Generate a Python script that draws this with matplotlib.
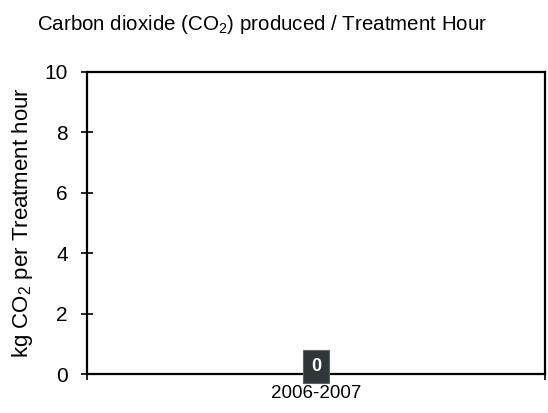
import matplotlib
matplotlib.use("Agg")
import matplotlib.pyplot as plt

plt.rcParams['font.family'] = ['Liberation Sans', 'DejaVu Sans']
plt.rcParams['mathtext.fontset'] = 'custom'
plt.rcParams['mathtext.rm'] = 'Liberation Sans'
plt.rcParams['mathtext.it'] = 'Liberation Sans:italic'

# data
years = ['2006-2007']
co2_per_hour = [0]
yticks = [0, 2, 4, 6, 8, 10]

fig = plt.figure(figsize=(5.48, 4.13), dpi=100)
ax = fig.add_axes([0.159, 0.094, 0.836, 0.732])

xs = list(range(len(years)))
ax.bar(xs, co2_per_hour, width=0.5, color='#2f3838')
for x, v in zip(xs, co2_per_hour):
    ax.text(x, v + 0.25, str(v), ha='center', va='center', color='white',
            fontsize=13, fontweight='bold',
            bbox=dict(boxstyle='square,pad=0.45', fc='#2f3838', ec='#5a6464', lw=0.8))

ax.set_xlim(-0.5, len(years) - 0.5)
ax.set_ylim(0, 10)
ax.set_yticks(yticks)
ax.set_xticks([i - 0.5 for i in range(len(years) + 1)])
ax.set_xticklabels([])
ax.set_xticks(xs, minor=True)
ax.set_xticklabels(years, minor=True)
ax.tick_params(axis='x', which='minor', length=0, labelsize=13.5, pad=8)
ax.tick_params(axis='x', which='major', direction='inout', length=8, width=1.2)
ax.tick_params(axis='y', direction='inout', length=8, width=1.2, labelsize=15, pad=10)
for s in ax.spines.values():
    s.set_linewidth(1.6)

ax.set_ylabel('kg CO$_2$ per Treatment hour', fontsize=16, labelpad=7)
fig.text(0.068, 0.94, 'Carbon dioxide (CO$_2$) produced / Treatment Hour',
         fontsize=14.8, ha='left', va='center')

fig.savefig('out.png', dpi=100)
